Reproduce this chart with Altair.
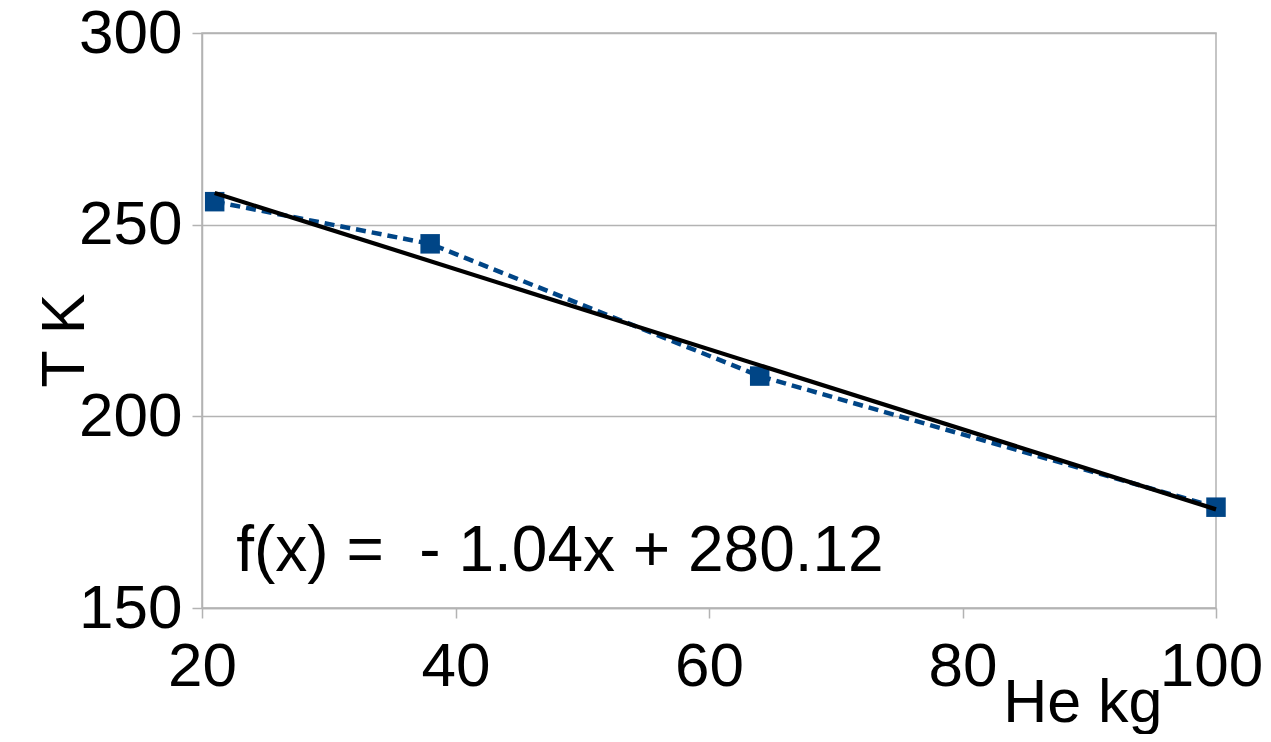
import altair as alt
import pandas as pd

# Data
he_kg = [21, 38, 64, 100]
temp_k = [256, 245, 210.5, 176.3]
x_ticks = [20, 40, 60, 80, 100]
y_ticks = [150, 200, 250, 300]
eq_label = ["f(x) =\u00a0\u00a0- 1.04x + 280.12"]
eq_x = [22.7]
eq_y = [159.6]

df = pd.DataFrame({"He kg": he_kg, "T K": temp_k})
eq_df = pd.DataFrame({"x": eq_x, "y": eq_y, "label": eq_label})

FONT = "Liberation Sans"
BLUE = "#004586"
GRAY = "#b3b3b3"

x_enc = alt.X(
    "He kg:Q",
    scale=alt.Scale(domain=[20, 100], nice=False, zero=False),
    axis=alt.Axis(
        values=x_ticks,
        grid=False,
        title="He kg",
        titleAnchor="start",
        titleAlign="right",
        titleBaseline="alphabetic",
        titleX=960,
        titleY=113,
        labelPadding=18,
        tickSize=10,
        labelOffset={"condition": {"test": "datum.value == 100", "value": -5}, "value": 0},
    ),
)
y_enc = alt.Y(
    "T K:Q",
    scale=alt.Scale(domain=[150, 300], nice=False, zero=False),
    axis=alt.Axis(
        values=y_ticks,
        grid=True,
        title="T K",
        titleAngle=270,
        titleAlign="center",
        titleBaseline="middle",
        titleX=-137,
        titleY=307,
        labelPadding=10,
        tickSize=10,
    ),
)

base = alt.Chart(df)

dashed = base.mark_line(color=BLUE, strokeWidth=4.5, strokeDash=[10, 6]).encode(x=x_enc, y=y_enc)
points = base.mark_point(shape="square", filled=True, color=BLUE, size=380, opacity=1).encode(x=x_enc, y=y_enc)
trend = (
    base.transform_regression("He kg", "T K", method="linear")
    .mark_line(color="black", strokeWidth=4.2)
    .encode(x=x_enc, y=y_enc)
)
eq = alt.Chart(eq_df).mark_text(
    font=FONT, fontSize=64, color="black", align="left", baseline="alphabetic"
).encode(
    x=alt.X("x:Q", scale=alt.Scale(domain=[20, 100], nice=False, zero=False)),
    y=alt.Y("y:Q", scale=alt.Scale(domain=[150, 300], nice=False, zero=False)),
    text="label:N",
)

chart = (
    alt.layer(dashed, points, trend, eq)
    .properties(
        width=1014,
        height=575,
        autosize=alt.AutoSizeParams(type="none"),
        padding={"left": 194, "top": 25, "right": 47, "bottom": 126},
        background="white",
    )
    .configure_view(stroke=GRAY, strokeWidth=1.5)
    .configure_axis(
        labelFont=FONT,
        titleFont=FONT,
        labelFontSize=62,
        titleFontSize=61,
        labelColor="black",
        titleColor="black",
        titleFontWeight="normal",
        domainColor=GRAY,
        domainWidth=1.5,
        tickColor=GRAY,
        tickWidth=1.5,
        gridColor=GRAY,
        gridWidth=1.5,
        labelOverlap=False,
        labelFlush=False,
    )
)

chart.save("out.html", embed_options={"renderer": "svg", "actions": False})
